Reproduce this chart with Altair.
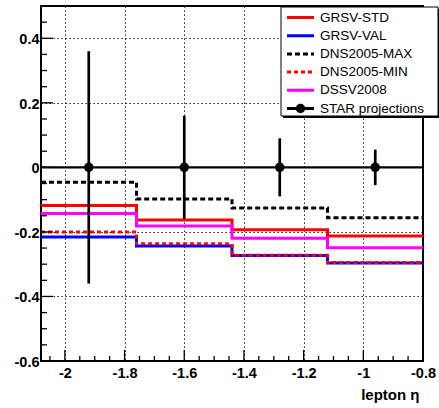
import altair as alt
import pandas as pd
import numpy as np

# ---- data ----
bin_edges = [-2.08, -1.76, -1.44, -1.12, -0.8]
series_names = ["GRSV-STD", "GRSV-VAL", "DNS2005-MAX", "DNS2005-MIN", "DSSV2008"]
grsv_std = [-0.118, -0.163, -0.193, -0.213]
grsv_val = [-0.216, -0.244, -0.273, -0.296]
dns_max = [-0.046, -0.098, -0.126, -0.156]
dns_min = [-0.200, -0.237, -0.272, -0.295]
dssv = [-0.143, -0.182, -0.220, -0.249]
series_values = [grsv_std, grsv_val, dns_max, dns_min, dssv]
series_colors = ["#ff0000", "#0000ff", "#000000", "#ff0000", "#ff00ff"]
series_dashes = [[1, 0], [1, 0], [5, 3], [4, 3], [1, 0]]

star_eta = [-1.92, -1.6, -1.28, -0.96]
star_val = [0.0, 0.0, 0.0, 0.0]
star_err = [0.36, 0.16, 0.09, 0.055]
star_name = "STAR projections"

x_major = [-2, -1.8, -1.6, -1.4, -1.2, -1, -0.8]
y_major = [-0.6, -0.4, -0.2, 0, 0.2, 0.4]

W, H = 382, 355
FONT = "Liberation Sans"

xs = alt.Scale(domain=[-2.08, -0.8], nice=False, zero=False)
ys = alt.Scale(domain=[-0.6, 0.5], nice=False, zero=False)

layers = []

# base layer with axes/grid
base_df = pd.DataFrame({"x": [-2.08], "y": [-0.6]})
base = alt.Chart(base_df).mark_point(opacity=0).encode(
    x=alt.X("x:Q", scale=xs,
            axis=alt.Axis(values=x_major, grid=True, gridColor="black", gridDash=[1.3, 2.7],
                          gridWidth=1, ticks=False, domain=False, labelFont=FONT,
                          labelFontSize=14.5, labelFontWeight="bold", labelColor="black",
                          labelPadding=5, labelOverlap=False, labelBound=False, labelFlush=False,
                          labelExpr="'' + datum.value",
                          title="lepton η", titleFont=FONT, titleFontSize=15,
                          titleFontWeight="bold", titleColor="black", titleAnchor="end",
                          titleAlign="right", titleX=378, titleY=38, titleBaseline="alphabetic")),
    y=alt.Y("y:Q", scale=ys,
            axis=alt.Axis(values=y_major, grid=True, gridColor="black", gridDash=[1.3, 2.7],
                          gridWidth=1, ticks=False, domain=False, labelFont=FONT,
                          labelFontSize=14.5, labelFontWeight="bold", labelColor="black",
                          labelPadding=2, labelOverlap=False, labelBound=False, labelFlush=False,
                          labelOffset=1.5, labelExpr="'' + datum.value", title=None)),
)
layers.append(base)

# histograms
for name, vals, col, dash in zip(series_names, series_values, series_colors, series_dashes):
    df = pd.DataFrame({"x": bin_edges, "y": vals + [vals[-1]]})
    layers.append(
        alt.Chart(df).mark_line(interpolate="step-after", color=col, strokeDash=dash,
                                strokeWidth=3, clip=True)
        .encode(x=alt.X("x:Q", scale=xs), y=alt.Y("y:Q", scale=ys))
    )

# zero line
layers.append(
    alt.Chart(pd.DataFrame({"y": [0.0]})).mark_rule(color="black", strokeWidth=2.2)
    .encode(y=alt.Y("y:Q", scale=ys))
)

star_df = pd.DataFrame({
    "x": star_eta, "y": star_val,
    "lo": [v - e for v, e in zip(star_val, star_err)],
    "hi": [v + e for v, e in zip(star_val, star_err)],
})
layers.append(
    alt.Chart(star_df).mark_rule(color="black", strokeWidth=2.7)
    .encode(x=alt.X("x:Q", scale=xs), y=alt.Y("lo:Q", scale=ys), y2="hi:Q")
)
layers.append(
    alt.Chart(star_df).mark_circle(color="black", opacity=1, size=90)
    .encode(x=alt.X("x:Q", scale=xs), y=alt.Y("y:Q", scale=ys))
)

# inward ticks (ROOT style)
x_minor = [round(v, 2) for v in np.arange(-2.05, -0.8, 0.05) if all(abs(v - m) > 1e-6 for m in x_major)]
y_minor = [round(v, 2) for v in np.arange(-0.55, 0.5, 0.05) if all(abs(v - m) > 1e-6 for m in y_major)]
layers.append(alt.Chart(pd.DataFrame({"v": x_major[:-1]})).mark_rule(color="black", strokeWidth=1.3)
              .encode(x=alt.X("v:Q", scale=xs), y=alt.value(H), y2=alt.value(H - 11)))
layers.append(alt.Chart(pd.DataFrame({"v": x_minor})).mark_rule(color="black", strokeWidth=1.3)
              .encode(x=alt.X("v:Q", scale=xs), y=alt.value(H), y2=alt.value(H - 5)))
layers.append(alt.Chart(pd.DataFrame({"v": y_major[1:]})).mark_rule(color="black", strokeWidth=1.3)
              .encode(y=alt.Y("v:Q", scale=ys), x=alt.value(0), x2=alt.value(12)))
layers.append(alt.Chart(pd.DataFrame({"v": y_minor})).mark_rule(color="black", strokeWidth=1.3)
              .encode(y=alt.Y("v:Q", scale=ys), x=alt.value(0), x2=alt.value(6)))

# legend (manual, ROOT style)
one = alt.Data(values=[{"a": 1}])
LX0, LX1, LY0, LY1 = 240, 397, 1, 110
layers.append(alt.Chart(one).mark_rect(fill="black")
              .encode(x=alt.value(LX0 + 2), x2=alt.value(LX1 + 2), y=alt.value(LY0 + 2), y2=alt.value(LY1 + 2)))
layers.append(alt.Chart(one).mark_rect(fill="white", stroke="black", strokeWidth=1)
              .encode(x=alt.value(LX0), x2=alt.value(LX1), y=alt.value(LY0), y2=alt.value(LY1)))

entries = list(zip(series_names, series_colors, series_dashes)) + [(star_name, "#000000", [1, 0])]
for i, (name, col, dash) in enumerate(entries):
    cy = 11.5 + 18.2 * i
    layers.append(alt.Chart(one).mark_rule(color=col, strokeDash=dash, strokeWidth=3)
                  .encode(x=alt.value(246), x2=alt.value(273), y=alt.value(cy)))
    if name == star_name:
        layers.append(alt.Chart(one).mark_circle(color="black", opacity=1, size=90)
                      .encode(x=alt.value(259.5), y=alt.value(cy)))
    layers.append(alt.Chart(one).mark_text(text=name, align="left", baseline="middle", font=FONT,
                                           fontSize=13.5, color="black")
                  .encode(x=alt.value(279), y=alt.value(cy)))

chart = alt.layer(*layers).properties(
    width=W, height=H,
    autosize=alt.AutoSizeParams(type="none"),
    padding={"left": 41, "top": 6, "right": 16, "bottom": 47},
    background="white",
).configure_view(stroke="black", strokeWidth=2)

chart.save("out.html", embed_options={"renderer": "svg", "actions": False})
